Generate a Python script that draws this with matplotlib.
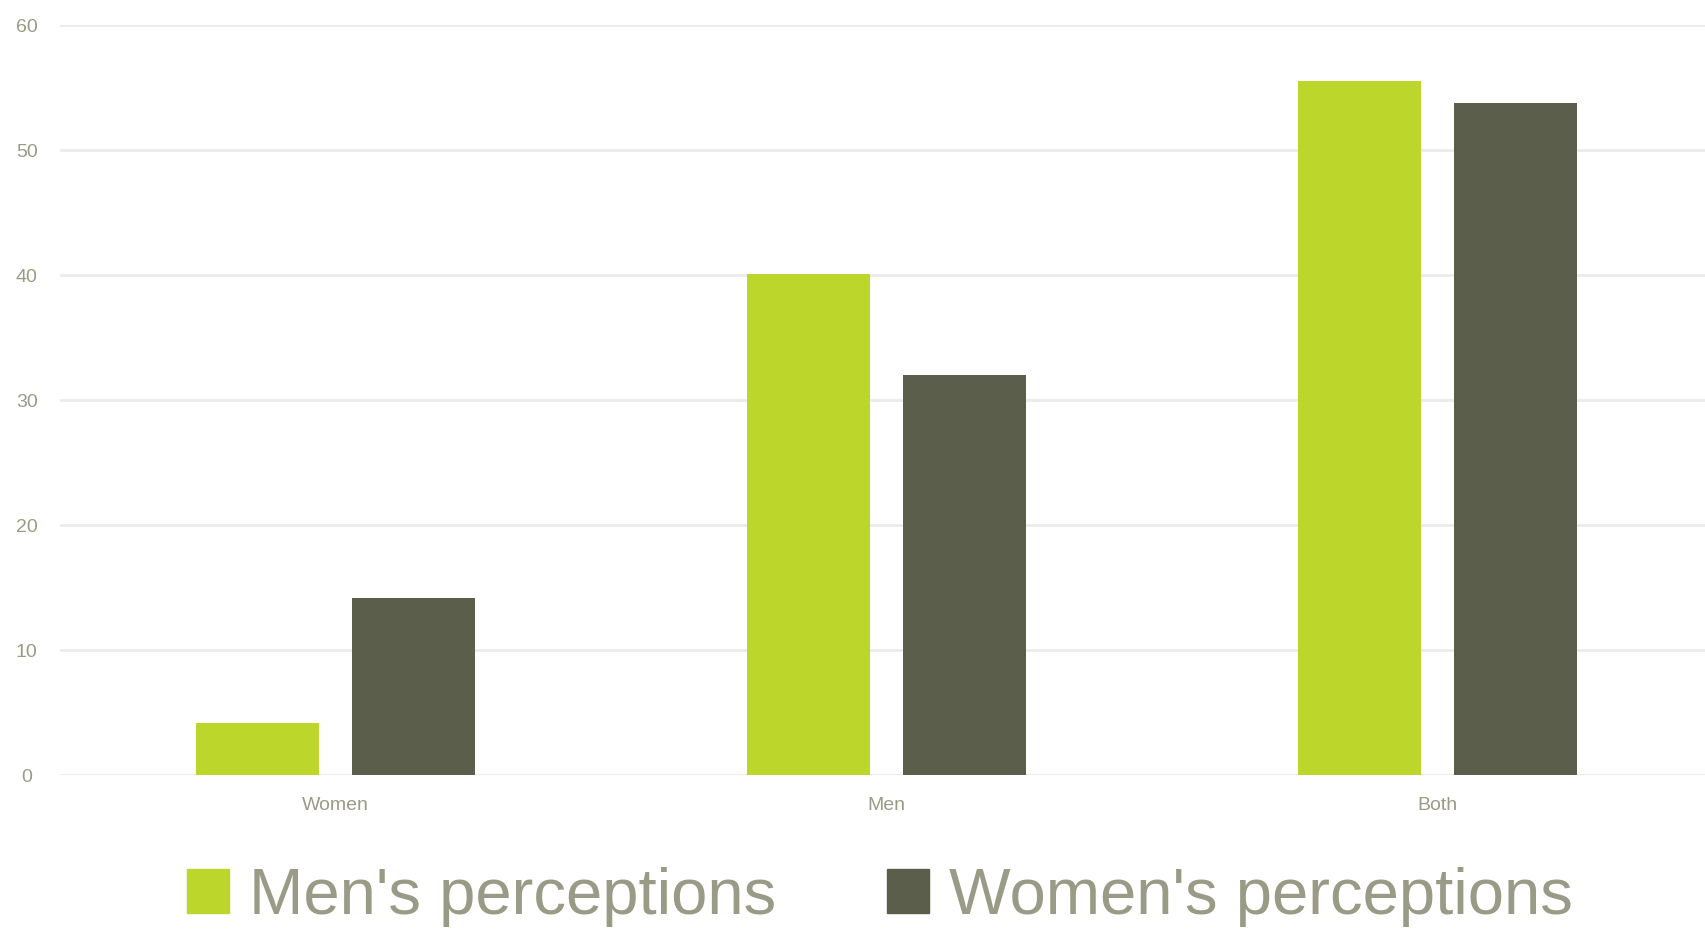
import matplotlib
matplotlib.use('Agg')
import matplotlib.pyplot as plt
from matplotlib import font_manager
from matplotlib.patches import Patch
import numpy as np

# данные с картинки
categories = ['Women', 'Men', 'Both']
mens_perceptions = [4.2, 40.1, 55.5]
womens_perceptions = [14.2, 32.0, 53.8]
series_names = ["Men's perceptions", "Women's perceptions"]
y_ticks = [0, 10, 20, 30, 40, 50, 60]

green = '#bdd62b'
dark = '#5b5e4a'
text_col = '#9a9b86'
grid_col = '#ebebeb'

# узкий шрифт, если есть
names = {f.name for f in font_manager.fontManager.ttflist}
narrow = 'Liberation Sans Narrow' in names
family = 'Liberation Sans Narrow' if narrow else 'Liberation Sans'
plt.rcParams['font.family'] = [family, 'DejaVu Sans']
legend_size = 58 if narrow else 47
tick_size = 15 if narrow else 14

W, H = 1706, 930
fig = plt.figure(figsize=(W / 100, H / 100), dpi=100)
ax = fig.add_axes([60 / W, 1 - 775 / H, (W - 60) / W, (775 - 25) / H])

x = np.arange(len(categories))
bw = 0.223
off = 0.1416
ax.bar(x - off, mens_perceptions, bw, color=green, zorder=3)
ax.bar(x + off, womens_perceptions, bw, color=dark, zorder=3)

ax.set_xlim(-0.5, -0.5 + (W - 60) / 551)
ax.set_ylim(0, 60)
ax.set_yticks(y_ticks)
ax.set_xticks(x)
ax.set_xticklabels(categories)
ax.grid(axis='y', color=grid_col, linewidth=2, zorder=0)
for s in ax.spines.values():
    s.set_visible(False)
ax.tick_params(length=0, labelsize=tick_size, colors=text_col)
ax.tick_params(axis='x', pad=16)
ax.tick_params(axis='y', pad=24)
for t in ax.get_yticklabels():
    t.set_horizontalalignment('center')

px = legend_size * 100 / 72
handles = [Patch(color=green), Patch(color=dark)]
fig.legend(handles, series_names, loc='center', bbox_to_anchor=(880 / W, 1 - 897 / H),
           ncol=2, frameon=False, fontsize=legend_size, labelcolor=text_col,
           handlelength=42 / px, handleheight=42 / px, handletextpad=20 / px,
           columnspacing=111 / px, borderpad=0, borderaxespad=0)

fig.savefig('out.png', dpi=100)
